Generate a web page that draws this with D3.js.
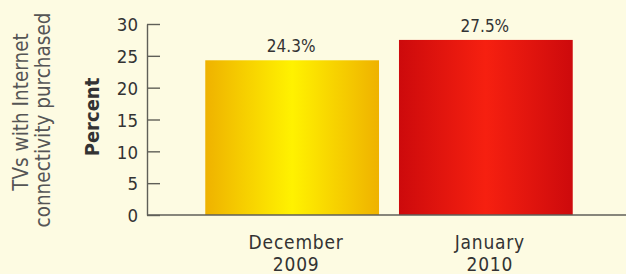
<!DOCTYPE html>
<html>
<head>
<meta charset="utf-8">
<script src="https://cdn.jsdelivr.net/npm/d3@7"></script>
<style>
  html, body { margin: 0; padding: 0; background: #fdfbe2; }
  svg { display: block; }
  text { font-family: "Liberation Sans Narrow", "DejaVu Sans Condensed", "Roboto Condensed", sans-serif; fill: #333; }
</style>
</head>
<body>
<svg id="chart" width="626" height="274"></svg>
<script>
// data
const categories = ["December 2009", "January 2010"];
const values = [24.3, 27.5];
const valueLabels = ["24.3%", "27.5%"];
const yTicks = [0, 5, 10, 15, 20, 25, 30];

// bar shading: edge colour, centre colour
const barEdge = ["#efb200", "#cd0a0c"];
const barMid = ["#fff200", "#f62010"];

const svg = d3.select('#chart');

const x = d3.scaleBand()
    .domain(categories)
    .range([152, 626])
    .paddingInner(0.103)
    .paddingOuter(0.275);

const y = d3.scaleLinear()
    .domain([0, 30])
    .range([215, 24]);

// gradients
const defs = svg.append('defs');
categories.forEach(function(c, i) {
    let g = defs.append('linearGradient')
        .attr('id', 'grad_' + i)
        .attr('x1', '0%').attr('x2', '100%')
        .attr('y1', '0%').attr('y2', '0%');
    g.append('stop').attr('offset', '0%').attr('stop-color', barEdge[i]);
    g.append('stop').attr('offset', '50%').attr('stop-color', barMid[i]);
    g.append('stop').attr('offset', '100%').attr('stop-color', barEdge[i]);
});

// bars
svg.selectAll('rect.bar')
    .data(values)
    .enter().append('rect')
    .attr('class', 'bar')
    .attr('x', (d, i) => x(categories[i]))
    .attr('y', d => y(d))
    .attr('width', x.bandwidth())
    .attr('height', d => y(0) - y(d))
    .style('fill', (d, i) => 'url(#grad_' + i + ')');

// y axis, ticks pointing into the plot
const yAxis = d3.axisRight(y)
    .tickValues(yTicks)
    .tickSize(13)
    .tickSizeOuter(0)
    .tickFormat(d3.format('d'));

const yg = svg.append('g')
    .attr('transform', 'translate(147,0)')
    .call(yAxis);
yg.select('.domain').attr('stroke', '#5f5f58').attr('stroke-width', 1.4);
yg.selectAll('.tick line').attr('stroke', '#5f5f58').attr('stroke-width', 1.4);
yg.selectAll('.tick text')
    .attr('x', -9)
    .attr('dy', '0.36em')
    .attr('text-anchor', 'end')
    .style('font-size', '18.5px')
    .style('fill', '#333');

// baseline
svg.append('line')
    .attr('x1', 147).attr('x2', 626)
    .attr('y1', y(0)).attr('y2', y(0))
    .attr('stroke', '#5f5f58')
    .attr('stroke-width', 1.4);

// value labels
svg.selectAll('text.val')
    .data(values)
    .enter().append('text')
    .attr('class', 'val')
    .attr('x', (d, i) => x(categories[i]) + x.bandwidth() / 2 - 1)
    .attr('y', d => y(d) - 8)
    .attr('text-anchor', 'middle')
    .style('font-size', '17px')
    .text((d, i) => valueLabels[i]);

// category labels, two lines each (separate texts so they don't collide)
categories.forEach(function(c, i) {
    let parts = c.split(' ');
    parts.forEach(function(p, j) {
        svg.append('text')
            .attr('class', 'cat')
            .attr('x', x(c) + x.bandwidth() / 2 + 4)
            .attr('y', 249 + j * 22.3)
            .attr('text-anchor', 'middle')
            .style('font-size', '19px')
            .style('letter-spacing', '0.8px')
            .text(p);
    });
});

// axis title
svg.append('text')
    .attr('transform', 'translate(99,117) rotate(-90)')
    .attr('text-anchor', 'middle')
    .style('font-size', '20px')
    .style('font-weight', 'bold')
    .text('Percent');

// left caption
const caption = ["TVs with Internet", "connectivity purchased"];
svg.selectAll('text.cap')
    .data(caption)
    .enter().append('text')
    .attr('class', 'cap')
    .attr('transform', (d, i) => 'translate(' + (28 + i * 22) + ',' + (i === 0 ? 112 : 120) + ') rotate(-90)')
    .attr('text-anchor', 'middle')
    .style('font-size', '20.5px')
    .style('fill', '#555')
    .text(d => d);
</script>
</body>
</html>
